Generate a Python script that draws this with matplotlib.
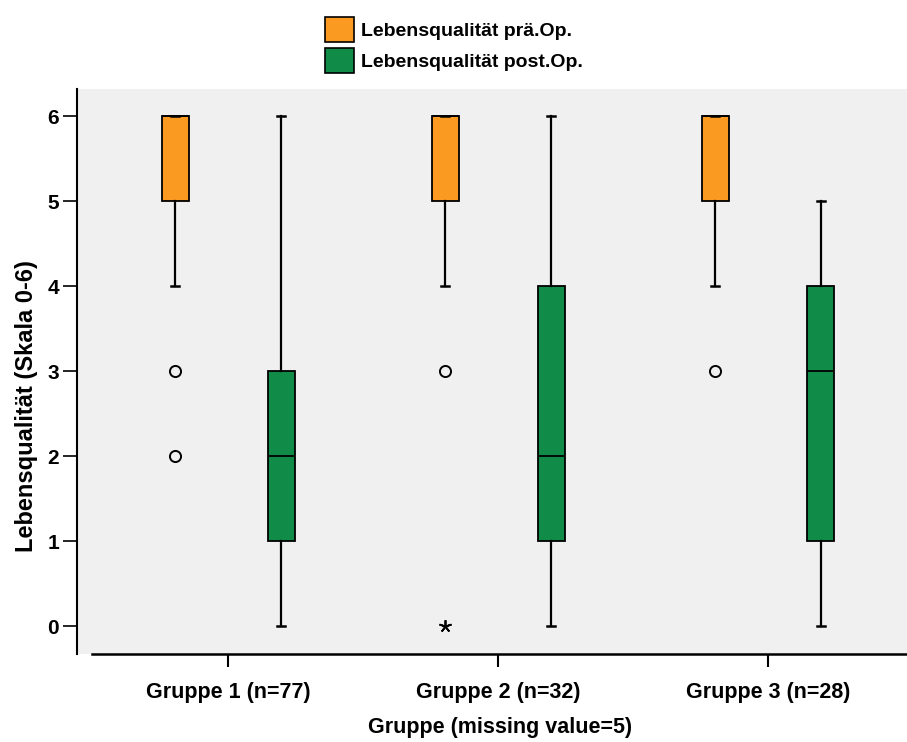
import numpy as np
import matplotlib.pyplot as plt
from matplotlib.patches import Patch

plt.rcParams['font.family'] = ['Liberation Sans', 'DejaVu Sans']
plt.rcParams['font.weight'] = 'bold'

groups = ["Gruppe 1 (n=77)", "Gruppe 2 (n=32)", "Gruppe 3 (n=28)"]
series = ["Lebensqualität prä.Op.", "Lebensqualität post.Op."]
colors = ["#FA9A20", "#118C48"]

# five-number summaries per group: (whislo, q1, med, q3, whishi)
pre_stats = [(4, 5, 6, 6, 6), (4, 5, 6, 6, 6), (4, 5, 6, 6, 6)]
post_stats = [(0, 1, 2, 3, 6), (0, 1, 2, 4, 6), (0, 1, 3, 4, 5)]
# outliers (circles) and extremes (stars)
pre_outliers = [[3, 2], [3], [3]]
pre_extremes = [[], [0], []]
post_outliers = [[], [], []]
post_extremes = [[], [], []]

fig = plt.figure(figsize=(9.07, 7.42), dpi=100)
ax = fig.add_axes([0.085, 0.118, 0.915, 0.762])
ax.set_facecolor("#F0F0F0")

x = np.arange(1, len(groups) + 1)
offset = 0.196
width = 0.1

for k, (stats, outl, extr) in enumerate([(pre_stats, pre_outliers, pre_extremes),
                                         (post_stats, post_outliers, post_extremes)]):
    bstats = []
    for s, o in zip(stats, outl):
        bstats.append(dict(whislo=s[0], q1=s[1], med=s[2], q3=s[3], whishi=s[4],
                           fliers=o))
    pos = x + (offset if k else -offset)
    ax.bxp(bstats, positions=pos, widths=width, capwidths=0.03, patch_artist=True,
           boxprops=dict(facecolor=colors[k], edgecolor="black", linewidth=1.3),
           medianprops=dict(color="black", linewidth=1.3),
           whiskerprops=dict(color="black", linewidth=1.6),
           capprops=dict(color="black", linewidth=1.8),
           flierprops=dict(marker="o", markersize=8, markerfacecolor="none",
                           markeredgecolor="black", markeredgewidth=1.4))
    for p, e in zip(pos, extr):
        if e:
            # extreme values drawn as a thin asterisk
            ax.plot([p] * len(e), e, linestyle="none", marker=(5, 2, 0),
                    markersize=9, color="black", markeredgewidth=1.3)

ax.set_xlim(0.44, 3.515)
ax.set_ylim(-0.33, 6.32)
ax.set_xticks(x)
ax.set_xticklabels(groups, fontsize=15.5, fontweight="bold")
ax.set_yticks(range(0, 7))
ax.set_yticklabels([str(v) for v in range(0, 7)], fontsize=15, fontweight="bold")
ax.tick_params(axis="x", length=9.5, width=1.5, pad=10)
ax.tick_params(axis="y", length=10, width=1.2, pad=3)
ax.spines["top"].set_visible(False)
ax.spines["right"].set_visible(False)
ax.spines["left"].set_linewidth(1.5)
ax.spines["bottom"].set_linewidth(1.8)
ax.spines["bottom"].set_bounds(0.495, 3.515)
ax.set_xlabel("Gruppe (missing value=5)", fontsize=15.5, fontweight="bold")
ax.set_ylabel("Lebensqualität (Skala 0-6)", fontsize=17, fontweight="bold")
ax.xaxis.set_label_coords(0.51, -0.111)
ax.yaxis.set_label_coords(-0.047, 0.44)

handles = [Patch(facecolor=c, edgecolor="black", linewidth=1.2) for c in colors]
fig.legend(handles, series, loc="upper center", bbox_to_anchor=(0.5, 1.0),
           frameon=False, prop=dict(size=14, weight="bold"), handlelength=1.5,
           handleheight=1.6, handletextpad=0.35, labelspacing=0.3)

fig.savefig("out.png", dpi=100)
